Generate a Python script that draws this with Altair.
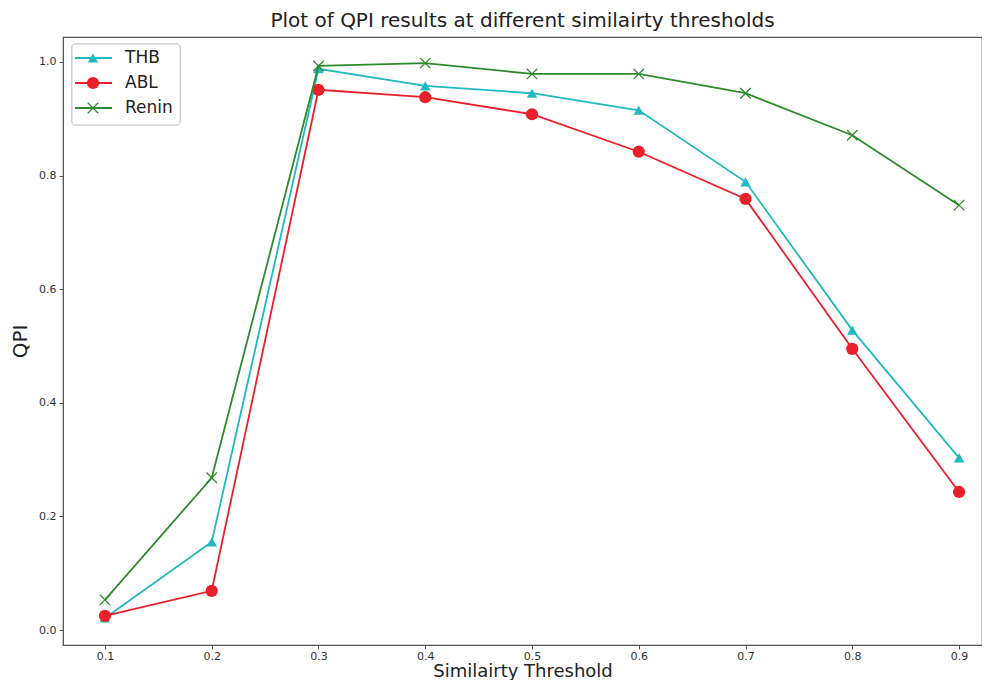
import altair as alt
import pandas as pd

thresholds = [0.1, 0.2, 0.3, 0.4, 0.5, 0.6, 0.7, 0.8, 0.9]
thb = [0.021, 0.155, 0.988, 0.958, 0.945, 0.915, 0.789, 0.528, 0.303]
abl = [0.025, 0.069, 0.951, 0.938, 0.908, 0.842, 0.759, 0.495, 0.243]
renin = [0.053, 0.268, 0.993, 0.998, 0.979, 0.979, 0.945, 0.871, 0.748]
series_names = ["THB", "ABL", "Renin"]
colors = ["#22b8c0", "#e8202a", "#2e8b2e"]

X_PATH = "M-1,-1L1,1M-1,1L1,-1"

rows = []
for name, vals in zip(series_names, [thb, abl, renin]):
    for t, v in zip(thresholds, vals):
        rows.append({"series": name, "threshold": t, "qpi": v})
df = pd.DataFrame(rows)

xscale = alt.Scale(domain=[0.0607, 0.9215], nice=False, zero=False)
yscale = alt.Scale(domain=[-0.0264, 1.044], nice=False, zero=False)
cscale = alt.Scale(domain=series_names, range=colors)

xenc = alt.X("threshold:Q", scale=xscale,
             axis=alt.Axis(values=thresholds, format=".1f", title="Similairty Threshold", grid=False))
yenc = alt.Y("qpi:Q", scale=yscale,
             axis=alt.Axis(values=[0, 0.2, 0.4, 0.6, 0.8, 1.0], format=".1f", title="QPI", grid=False))

layers = []
for name, col in zip(series_names, colors):
    sub = df[df.series == name]
    base = alt.Chart(sub)
    line = base.mark_line(color=col, strokeWidth=1.8).encode(x=xenc, y=yenc)
    layers.append(line)
    if name == "THB":
        pts = base.mark_point(shape="triangle-up", filled=True, color=col, size=110, opacity=1)
    elif name == "ABL":
        pts = base.mark_point(shape="circle", filled=True, color=col, size=150, opacity=1)
    else:
        pts = base.mark_point(shape=X_PATH, filled=False, color=col, size=110, strokeWidth=1.3, opacity=1)
    layers.append(pts.encode(x=xenc, y=yenc))

# manual legend
leg_df = pd.DataFrame({"series": series_names, "rank": [0, 1, 2]})
lscale = alt.Scale(domain=[0, 2], range=[21, 71])
legend_bg = alt.Chart(leg_df).mark_rect(fill="white", stroke="#cccccc", cornerRadius=3, strokeWidth=1).encode(
    x=alt.value(9), x2=alt.value(117), y=alt.value(7), y2=alt.value(88))
leg_lines = alt.Chart(leg_df).mark_rule(strokeWidth=1.8).encode(
    x=alt.value(12), x2=alt.value(49),
    y=alt.Y("rank:Q", scale=lscale, axis=None),
    color=alt.Color("series:N", scale=cscale, legend=None))
leg_tri = alt.Chart(leg_df[leg_df.series == "THB"]).mark_point(shape="triangle-up", filled=True, size=110, opacity=1).encode(
    x=alt.value(30), y=alt.Y("rank:Q", scale=lscale, axis=None),
    color=alt.Color("series:N", scale=cscale, legend=None))
leg_circ = alt.Chart(leg_df[leg_df.series == "ABL"]).mark_point(shape="circle", filled=True, size=150, opacity=1).encode(
    x=alt.value(30), y=alt.Y("rank:Q", scale=lscale, axis=None),
    color=alt.Color("series:N", scale=cscale, legend=None))
leg_x = alt.Chart(leg_df[leg_df.series == "Renin"]).mark_point(shape=X_PATH, filled=False, size=110, strokeWidth=1.3, opacity=1).encode(
    x=alt.value(30), y=alt.Y("rank:Q", scale=lscale, axis=None),
    color=alt.Color("series:N", scale=cscale, legend=None))
leg_text = alt.Chart(leg_df).mark_text(align="left", baseline="middle", fontSize=17, font="DejaVu Sans", color="#222222").encode(
    x=alt.value(62), y=alt.Y("rank:Q", scale=lscale, axis=None), text="series:N")

main = alt.layer(*layers)
legend = alt.layer(legend_bg, leg_lines, leg_tri, leg_circ, leg_x, leg_text).resolve_scale(y="shared")

chart = alt.layer(main, legend).resolve_scale(y="independent").properties(
    width=919, height=608,
    autosize=alt.AutoSizeParams(type="none"),
    padding={"left": 55, "top": 29, "right": 0, "bottom": 35},
    title=alt.TitleParams("Plot of QPI results at different similairty thresholds",
                          fontSize=20, font="DejaVu Sans", fontWeight="normal", color="#222222",
                          anchor="middle", offset=6),
).configure_view(stroke="#555555", strokeWidth=1.2).configure_axis(
    labelFont="DejaVu Sans", labelFontSize=11, labelColor="#333333",
    titleFont="DejaVu Sans", titleFontSize=20, titleFontWeight="normal", titleColor="#222222",
    domainColor="#555555", tickColor="#555555", tickSize=4, labelPadding=3,
).configure_axisX(titlePadding=1, labelPadding=1, titleFontSize=18).configure_axisY(titlePadding=8)

chart.save("out.html", embed_options={"renderer": "svg", "actions": False})
